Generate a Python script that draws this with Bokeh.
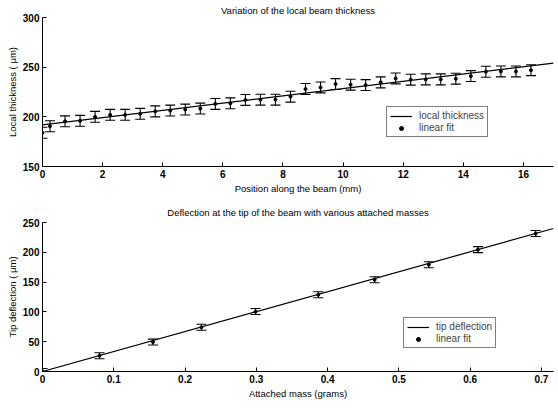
from bokeh.plotting import figure
from bokeh.layouts import column
from bokeh.models import (ColumnDataSource, Whisker, TeeHead, Legend, LegendItem,
                          Range1d, FixedTicker)
from bokeh.embed import file_html
from bokeh.resources import INLINE

# Local beam thickness measured along the beam
position_mm = [0, 0.25, 0.75, 1.25, 1.75, 2.25, 2.75, 3.25, 3.75, 4.25, 4.75,
               5.25, 5.75, 6.25, 6.75, 7.25, 7.75, 8.25, 8.75, 9.25, 9.75,
               10.25, 10.75, 11.25, 11.75, 12.25, 12.75, 13.25, 13.75, 14.25,
               14.75, 15.25, 15.75, 16.25]
thickness_um = [184, 190.5, 195.5, 196, 200, 202, 202, 203, 205.5, 206.3,
                207.3, 208.3, 213, 213.6, 217, 217.3, 217.3, 220.3, 228,
                229.6, 233, 232.4, 232, 234.7, 238.7, 237.4, 237.7, 237.7,
                238.4, 241, 245.4, 245.7, 245.7, 247]
thickness_err = [5.5] * len(position_mm)
thickness_fit_x = [0, 17]
thickness_fit_y = [192, 254]

# Tip deflection for several attached masses
mass_g = [0.0, 0.08, 0.155, 0.223, 0.299, 0.387, 0.466, 0.542, 0.611, 0.692]
deflection_um = [0, 26.4, 49.4, 74.2, 100.6, 128.7, 154, 179.2, 204.5, 231.5]
deflection_err = [5] * len(mass_g)
deflection_fit_x = [0, 0.717]
deflection_fit_y = [0, 240]

top_xticks = [0, 2, 4, 6, 8, 10, 12, 14, 16]
top_yticks = [150, 200, 250, 300]
bot_xticks = [0, 0.1, 0.2, 0.3, 0.4, 0.5, 0.6, 0.7]
bot_yticks = [0, 50, 100, 150, 200, 250]

FONT = "Liberation Sans"


def style(p, xticks, yticks, title_offset, title_standoff):
    p.outline_line_color = None
    p.xgrid.visible = False
    p.ygrid.visible = False
    p.title.text_font = FONT
    p.title.text_font_size = "9.5px"
    p.title.text_font_style = "normal"
    p.title.text_color = "black"
    p.title.align = "center"
    p.title.standoff = title_standoff
    p.title.offset = title_offset
    for ax in (p.xaxis[0], p.yaxis[0]):
        ax.axis_line_color = "black"
        ax.major_tick_line_color = "black"
        ax.major_tick_in = 4
        ax.major_tick_out = 0
        ax.minor_tick_line_color = None
        ax.major_label_text_font = FONT
        ax.major_label_text_font_size = "10px"
        ax.major_label_text_font_style = "bold"
        ax.major_label_text_color = "black"
        ax.axis_label_text_font = FONT
        ax.axis_label_text_font_size = "9.5px"
        ax.axis_label_text_font_style = "normal"
        ax.axis_label_text_color = "black"
        ax.axis_label_standoff = 2
        ax.major_label_standoff = 3
    p.xaxis[0].ticker = FixedTicker(ticks=xticks)
    p.yaxis[0].ticker = FixedTicker(ticks=yticks)


def panel(title, x, y, err, fx, fy, xr, yr, xticks, yticks, xlabel, ylabel,
          line_label, dot_label, h, top, bottom, legend_loc, title_offset,
          title_standoff):
    p = figure(width=558, height=h, title=title, output_backend="svg",
               toolbar_location=None, x_range=Range1d(*xr), y_range=Range1d(*yr),
               min_border_left=42, min_border_right=5,
               min_border_top=top, min_border_bottom=bottom,
               x_axis_label=xlabel, y_axis_label=ylabel)
    style(p, xticks, yticks, title_offset, title_standoff)
    src = ColumnDataSource(dict(x=x, y=y,
                                lo=[v - e for v, e in zip(y, err)],
                                hi=[v + e for v, e in zip(y, err)]))
    fit = p.line(fx, fy, line_color="black", line_width=1.2)
    p.add_layout(Whisker(source=src, base="x", lower="lo", upper="hi",
                         line_color="black", line_width=1.1,
                         upper_head=TeeHead(size=10, line_color="black", line_width=1.1),
                         lower_head=TeeHead(size=10, line_color="black", line_width=1.1)))
    dots = p.scatter("x", "y", source=src, size=3, color="black")
    legend = Legend(items=[LegendItem(label=line_label, renderers=[fit]),
                           LegendItem(label=dot_label, renderers=[dots])],
                    location=legend_loc, border_line_color="black",
                    border_line_width=1, background_fill_alpha=1,
                    label_text_font=FONT, label_text_font_size="10px",
                    label_height=10, glyph_height=10, glyph_width=22,
                    spacing=1, padding=3, margin=0, label_standoff=7)
    p.add_layout(legend, "center")
    return p


top = panel("Variation of the local beam thickness", position_mm, thickness_um,
            thickness_err, thickness_fit_x, thickness_fit_y, (0, 17), (150, 300),
            top_xticks, top_yticks, "Position along the beam (mm)",
            "Local thickness ( \u03bcm)", "local thickness", "linear fit",
            196, 17, 30, (344, 29), -14, 4)
bottom = panel("Deflection at the tip of the beam with various attached masses",
               mass_g, deflection_um, deflection_err, deflection_fit_x,
               deflection_fit_y, (0, 0.717), (0, 250), bot_xticks, bot_yticks,
               "Attached mass (grams)", "Tip deflection ( \u03bcm)",
               "tip deflection", "linear fit", 215, 26, 40, (361, 23), -24, 9)

page = column(top, bottom, spacing=0)
open("out.html", "w").write(file_html(page, INLINE))
